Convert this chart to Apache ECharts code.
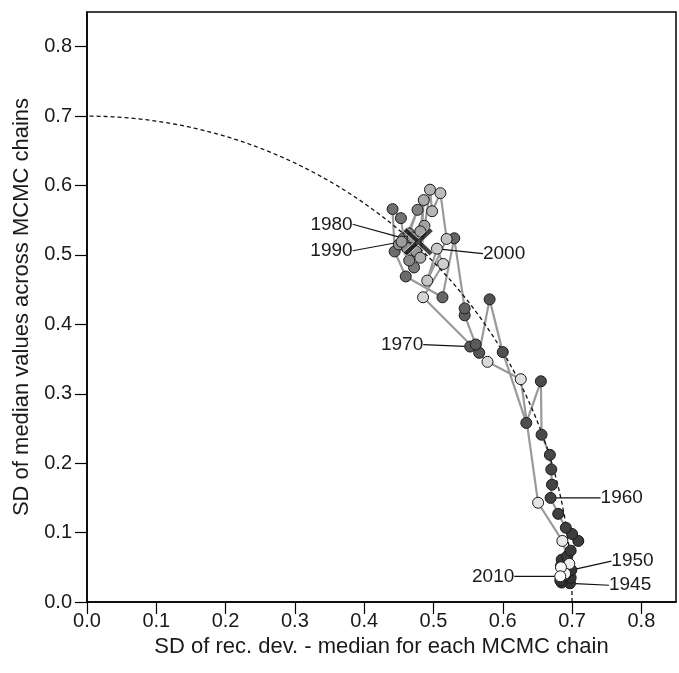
<!DOCTYPE html>
<html><head><meta charset="utf-8">
<script src="https://cdn.jsdelivr.net/npm/echarts@6/dist/echarts.min.js"></script>
<style>html,body{margin:0;padding:0;background:#fff}#c{width:679px;height:673px}</style>
</head><body><div id="c"></div>
<script>
// ---- data ----
const years = [1945,1946,1947,1948,1949,1950,1951,1952,1953,1954,1955,1956,1957,1958,1959,
  1960,1961,1962,1963,1964,1965,1966,1967,1968,1969,1970,1971,1972,1973,1974,1975,1976,1977,1978,1979,
  1980,1981,1982,1983,1984,1985,1986,1987,1988,1989,1990,1991,1992,1993,1994,1995,1996,1997,1998,1999,
  2000,2001,2002,2003,2004,2005,2006,2007,2008,2009,2010];
const xValues = [0.697,0.685,0.683,0.698,0.687,0.699,0.690,0.684,0.685,0.693,0.698,0.709,0.700,0.691,0.680,
  0.669,0.671,0.670,0.668,0.656,0.655,0.634,0.600,0.581,0.566,0.553,0.561,0.545,0.545,0.530,0.513,0.460,0.444,0.441,0.453,
  0.457,0.472,0.465,0.477,0.458,0.465,0.450,0.462,0.470,0.475,0.454,0.487,0.481,0.486,0.481,0.495,0.498,0.510,0.519,0.491,
  0.505,0.514,0.485,0.578,0.626,0.651,0.686,0.696,0.690,0.684,0.683];
const yValues = [0.027,0.028,0.031,0.035,0.043,0.046,0.038,0.052,0.061,0.066,0.074,0.088,0.098,0.107,0.127,
  0.150,0.169,0.191,0.212,0.241,0.318,0.258,0.360,0.436,0.359,0.368,0.371,0.413,0.423,0.524,0.439,0.469,0.505,0.566,0.553,
  0.524,0.482,0.531,0.565,0.519,0.492,0.515,0.510,0.525,0.505,0.519,0.542,0.534,0.579,0.496,0.594,0.563,0.589,0.523,0.463,
  0.509,0.487,0.439,0.346,0.321,0.143,0.088,0.055,0.041,0.050,0.037];
const labeledYears = [1945,1950,1960,1970,1980,1990,2000,2010];
const crossPoint = [0.478, 0.519];
const circleRadius = 0.7;
const xTicks = [0,0.1,0.2,0.3,0.4,0.5,0.6,0.7,0.8];
const yTicks = [0,0.1,0.2,0.3,0.4,0.5,0.6,0.7,0.8];
const xTitle = 'SD of rec. dev. - median for each MCMC chain';
const yTitle = 'SD of median values across MCMC chains';

// ---- styling (not data) ----
const labelOffsets = {
  1945: [39, 2, 'left'], 1950: [40, -9, 'left'], 1960: [50, 0, 'left'],
  1970: [-47, -2, 'right'], 1980: [-51, -14, 'right'], 1990: [-49, 9, 'right'],
  2000: [46, 5, 'left'], 2010: [-46, 0, 'right']
};
function shade(year) {
  const t = (year - 1945) / 65;
  const g = Math.round(52 + 203 * Math.pow(t, 1.8));
  return 'rgb(' + g + ',' + g + ',' + g + ')';
}
const FONT = 'Liberation Sans, Arial, sans-serif';
const TXT = '#1a1a1a';

const pathData = years.map((yr, i) => [xValues[i], yValues[i]]);
const pointData = years.map((yr, i) => {
  const item = { value: [xValues[i], yValues[i], yr], itemStyle: { color: shade(yr) } };
  if (labeledYears.indexOf(yr) >= 0) {
    item.label = { show: true, formatter: String(yr) };
  }
  return item;
});

const chart = echarts.init(document.getElementById('c'), null, { renderer: 'canvas' });
chart.setOption({
  animation: false,
  backgroundColor: '#fff',
  textStyle: { fontFamily: FONT },
  grid: { left: 87, top: 12, width: 589, height: 590, show: true, borderColor: '#000', borderWidth: 1.5, backgroundColor: 'transparent' },
  xAxis: {
    type: 'value', min: 0, max: 0.85, interval: 0.1,
    axisLine: { show: true, onZero: false, lineStyle: { color: '#000', width: 1.5 } },
    axisTick: { show: true, length: 12, customValues: xTicks, lineStyle: { color: '#000', width: 1.2 } },
    axisLabel: { customValues: xTicks, formatter: v => v.toFixed(1), fontSize: 20, color: TXT, margin: 9, fontFamily: FONT },
    splitLine: { show: false },
    name: xTitle, nameLocation: 'middle', nameGap: 24,
    nameTextStyle: { fontSize: 22, color: TXT, fontFamily: FONT }
  },
  yAxis: {
    type: 'value', min: 0, max: 0.85, interval: 0.1,
    axisLine: { show: true, onZero: false, lineStyle: { color: '#000', width: 1.5 } },
    axisTick: { show: true, length: 12, customValues: yTicks, lineStyle: { color: '#000', width: 1.2 } },
    axisLabel: { customValues: yTicks, formatter: v => v.toFixed(1), fontSize: 20, color: TXT, margin: 15, fontFamily: FONT },
    splitLine: { show: false },
    name: yTitle, nameLocation: 'middle', nameGap: 47,
    nameTextStyle: { fontSize: 22, color: TXT, fontFamily: FONT }
  },
  series: [
    {
      type: 'line', data: pathData, showSymbol: false, symbol: 'none', z: 2,
      lineStyle: { color: '#9a9a9a', width: 2.2 }, silent: true
    },
    {
      type: 'custom', z: 3, silent: true, data: [[0, 0]],
      renderItem: function (params, api) {
        const pts = [];
        for (let i = 0; i <= 120; i++) {
          const a = (i / 120) * Math.PI / 2;
          pts.push(api.coord([circleRadius * Math.cos(a), circleRadius * Math.sin(a)]));
        }
        return { type: 'polyline', shape: { points: pts },
          style: { stroke: '#111', lineWidth: 1.3, lineDash: [4, 3], fill: null } };
      }
    },
    {
      type: 'scatter', data: pointData, z: 4, symbol: 'circle', symbolSize: 11,
      itemStyle: { borderColor: '#1a1a1a', borderWidth: 1, opacity: 1 },
      label: { show: false, fontSize: 19, color: TXT, fontFamily: FONT },
      labelLine: { show: true, lineStyle: { color: '#111', width: 1.2 }, smooth: false },
      labelLayout: function (p) {
        const yr = years[p.dataIndex];
        const o = labelOffsets[yr];
        if (!o) return {};
        const cx = p.rect.x + p.rect.width / 2, cy = p.rect.y + p.rect.height / 2;
        return { x: cx + o[0], y: cy + o[1], align: o[2], verticalAlign: 'middle' };
      }
    },
    {
      type: 'scatter', z: 5, data: [crossPoint], silent: true,
      symbol: 'path://M0,1.2 L1.2,0 L5,3.8 L8.8,0 L10,1.2 L6.2,5 L10,8.8 L8.8,10 L5,6.2 L1.2,10 L0,8.8 L3.8,5 Z',
      symbolSize: [30, 28],
      itemStyle: { color: '#111', borderColor: '#fff', borderWidth: 0.8 }
    }
  ]
});
</script>
</body></html>
